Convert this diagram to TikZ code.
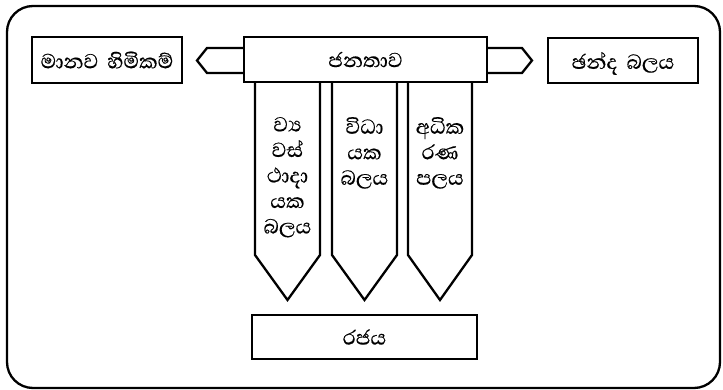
\documentclass[tikz,border=0pt]{standalone}
\usepackage{fontspec}
\newfontfamily\sinhalafont[Script=Sinhala,FakeBold=0.4,WordSpace=1.8]{Abhaya Libre}
\begin{document}
\begin{tikzpicture}[x=1pt,y=-1pt,
  line join=miter,
  sfont/.style={font=\sinhalafont\fontsize{26}{25.5}\selectfont},
  box/.style={draw, line width=2.3pt, inner sep=0pt, text depth=0pt, sfont},
  shapeline/.style={draw, line width=2.3pt},
  coltext/.style={sfont, anchor=north, align=center, inner sep=0pt}]
\useasboundingbox (0,0) rectangle (723,390);
\draw[line width=2.3pt, rounded corners=26pt] (7,6) rectangle (720,388);
% boxes
\node[box, minimum width=150pt, minimum height=46pt] (hr) at (107,60) {මානව හිමිකම්};
\node[box, minimum width=243pt, minimum height=45pt] (people) at (365.5,59.5) {ජනතාව};
\node[box, minimum width=150pt, minimum height=45pt] (vote) at (623,60.5) {ඡන්ද බලය};
\node[box, minimum width=225pt, minimum height=44pt] (state) at (364.5,337) {රජය};
% side arrows
\draw[shapeline] (people.west |- 0,48) -- (207,48) -- (197,60.5) -- (207,73) -- (people.west |- 0,73);
\draw[shapeline] (people.east |- 0,48) -- (522,48) -- (532,60.5) -- (522,73) -- (people.east |- 0,73);
% columns
\draw[shapeline] (255,82) -- (255,255) -- (287.5,300) -- (320,255) -- (320,82);
\draw[shapeline] (332,82) -- (332,255) -- (364.5,300) -- (397,255) -- (397,82);
\draw[shapeline] (408,82) -- (408,255) -- (440,300) -- (472,255) -- (472,82);
\node[coltext] (leg) at (287.5,117) {ව්‍ය\\වස්\\ථාදා\\යක\\බලය};
\node[coltext] (exe) at (364.5,117) {විධා\\යක\\බලය};
\node[coltext] (jud) at (440,117) {අධික\\රණ\\පලය};
\end{tikzpicture}
\end{document}
